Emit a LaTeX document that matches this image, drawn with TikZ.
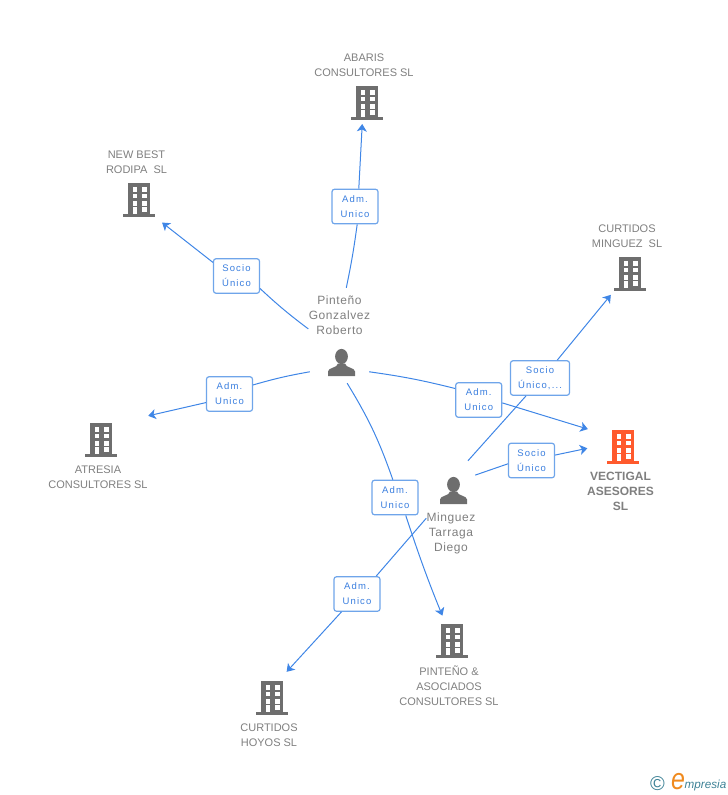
\documentclass[tikz,border=0pt]{standalone}
\usepackage{fontspec}
\setmainfont{Liberation Sans}
\newfontfamily\spacedfont[LetterSpace=12]{Liberation Sans}
\newfontfamily\namefont[LetterSpace=5]{Liberation Sans}
\usetikzlibrary{arrows.meta}
\definecolor{linkblue}{HTML}{3F86E6}
\definecolor{boxblue}{HTML}{6FA5EA}
\definecolor{labelblue}{HTML}{3B7FDF}
\definecolor{iconcol}{HTML}{6E6E6E}
\definecolor{textcol}{HTML}{7F7F7F}
\definecolor{mainred}{HTML}{FF5A2D}
\definecolor{logoteal}{HTML}{3E8296}
\definecolor{logoorange}{HTML}{F08A1E}
\tikzset{
    link/.style={draw=linkblue,line width=1pt},
    linkto/.style={link,-{Stealth[length=7.5pt,width=10pt,inset=2pt]}},
    rolebox/.style={draw=boxblue,line width=1.2pt,rounded corners=2.5pt,fill=white,minimum width=46pt,minimum height=34.5pt,inner sep=0pt,align=center,text=labelblue,font=\spacedfont\fontsize{9.5}{15}\selectfont},
    firm/.style={minimum width=32pt,minimum height=34pt,inner sep=0pt,outer sep=0pt},
    firmname/.style={inner sep=0pt,align=center,text=textcol,font=\fontsize{11}{15}\selectfont},
    personname/.style={inner sep=0pt,align=center,text=textcol,font=\namefont\fontsize{12}{15}\selectfont},
    building/.pic={
        \fill[pic actions] (-11,-17) rectangle (11,15);
        \fill[pic actions] (-16,14) rectangle (16,17);
        \foreach \wy in {-13,-6.5,1} {
            \fill[white] (-6.5,\wy) rectangle (-1.6,\wy+4.6);
            \fill[white] (3.3,\wy) rectangle (8.2,\wy+4.6);
        }
        \fill[white] (-6.5,7) rectangle (-1.6,14);
        \fill[white] (3.3,7) rectangle (8.2,11.6);
    },
    person/.pic={
        \fill[iconcol] (0,-6) ellipse (6.4 and 7.6);
        \fill[iconcol] (-13.5,13.5) -- (-13.5,9) .. controls (-13.5,5) and (-4,5.5) .. (-3.5,1) -- (3.5,1) .. controls (4,5.5) and (13.5,5) .. (13.5,9) -- (13.5,13.5) -- cycle;
    },
}
\begin{document}
\begin{tikzpicture}[x=1pt,y=-1pt]
    \useasboundingbox (0,0) rectangle (728,795);
    \node[firm] (abaris) at (367,103) {};
    \node[firm] (newbest) at (139,200) {};
    \node[firm] (minguez) at (630,274) {};
    \node[firm] (atresia) at (101,440) {};
    \node[firm] (vectigal) at (623,447) {};
    \node[firm] (pinteno) at (452,641) {};
    \node[firm] (hoyos) at (272,698) {};
    \node[minimum width=59pt,minimum height=34pt,inner sep=0pt] (pp) at (339.5,366) {};
    \node[minimum width=43pt,minimum height=44pt,inner sep=0pt] (md) at (453.5,483) {};
    \node[firmname] (abarisname) at (364,65) {ABARIS\\CONSULTORES SL};
    \node[firmname] (newbestname) at (136.5,162) {NEW BEST\\RODIPA~ SL};
    \node[firmname] (minguezname) at (627,236) {CURTIDOS\\MINGUEZ~ SL};
    \node[firmname] (atresianame) at (98,477) {ATRESIA\\CONSULTORES SL};
    \node[firmname] (pintenoname) at (449,685.5) {PINTEÑO \&\\ASOCIADOS\\CONSULTORES SL};
    \node[firmname] (hoyosname) at (269,735) {CURTIDOS\\HOYOS SL};
    \node[inner sep=0pt,align=center,text=textcol,font=\bfseries\fontsize{12}{15}\selectfont] (vectigalname) at (620.5,491) {VECTIGAL\\ASESORES\\SL};
    \node[personname,minimum width=62pt,minimum height=54pt] (ppname) at (339.5,315) {Pinteño\\Gonzalvez\\Roberto};
    \node[personname,minimum width=48pt,minimum height=44pt] (mdname) at (451,533) {Minguez\\Tarraga\\Diego};
    \node[rolebox] (adm1) at (355,206.5) {Adm.\\Unico};
    \node[rolebox] (socio1) at (236.5,276) {Socio\\Único};
    \node[rolebox] (adm2) at (229.5,394) {Adm.\\Unico};
    \node[rolebox] (adm3) at (478.7,400) {Adm.\\Unico};
    \node[rolebox,minimum width=59pt] (socio2) at (540,378) {Socio\\Único,...};
    \node[rolebox] (socio3) at (531.5,460.5) {Socio\\Único};
    \node[rolebox] (adm4) at (395,497.5) {Adm.\\Unico};
    \node[rolebox] (adm5) at (357,594) {Adm.\\Unico};
    \draw[link] (ppname.76.5) to[bend right=2] (adm1.-83.5);
    \draw[linkto,shorten >=4pt] (adm1.78.7) -- (abaris.-105.8);
    \draw[link] (ppname.204) to[bend left=3] (socio1.-28);
    \draw[linkto,shorten >=9pt] (socio1.150) -- (newbest.south east);
    \draw[link] (pp.191.5) to[bend right=3] (adm2.21.8);
    \draw[linkto,shorten >=32pt] (adm2.200.7) -- (atresia.north east);
    \draw[link] (pp.-11.5) to[bend left=3] (adm3.154.4);
    \draw[linkto,shorten >=20pt] (adm3.-7.4) -- (vectigal.143);
    \draw[link] (pp.-66) to[bend left=6] (adm4.97.5);
    \draw[linkto,shorten >=9pt] (adm4.-59.5) to[bend right=2] (pinteno.110.6);
    \draw[link] (md.57.6) -- (socio2.-128.7);
    \draw[linkto,shorten >=5pt] (socio2.46) -- (minguez.south west);
    \draw[link] (md.20.4) -- (socio3.188.8);
    \draw[linkto,shorten >=20pt] (socio3.13.7) -- (vectigal.170.4);
    \draw[link] (mdname.149.5) -- (adm5.43.4);
    \draw[linkto,shorten >=12.5pt] (adm5.-131.4) -- (hoyos.70.6);
    \pic[iconcol] at (abaris) {building};
    \pic[iconcol] at (newbest) {building};
    \pic[iconcol] at (minguez) {building};
    \pic[iconcol] at (atresia) {building};
    \pic[mainred] at (vectigal) {building};
    \pic[iconcol] at (pinteno) {building};
    \pic[iconcol] at (hoyos) {building};
    \pic at (341.5,362.5) {person};
    \pic at (453.5,490.5) {person};
    \node[inner sep=0pt,text=logoteal,font=\fontsize{20}{20}\selectfont] (logoc) at (657.5,784) {©};
    \node[inner sep=0pt,text=logoorange,font=\itshape\fontsize{25}{25}\selectfont] (logoe) at (678,782) {\scalebox{1}[1.2]{e}};
    \node[inner sep=0pt,anchor=west,text=logoteal,font=\itshape\fontsize{11.7}{13}\selectfont] (logotext) at (684.5,785) {mpresia};
\end{tikzpicture}
\end{document}
